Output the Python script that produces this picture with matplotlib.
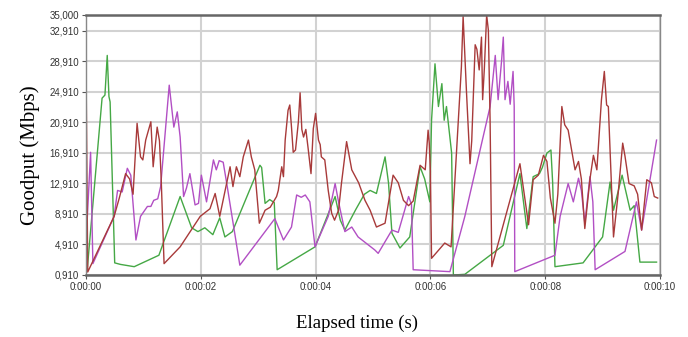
import matplotlib
matplotlib.use("Agg")
import matplotlib.pyplot as plt

# values (time in s, goodput in Mbps)
green_t = [0.02, 0.28, 0.33, 0.37, 0.40, 0.42, 0.50, 0.60, 0.84, 1.27, 1.64, 1.84, 1.95, 2.07, 2.21,
           2.33, 2.42, 2.55, 3.03, 3.06, 3.12, 3.20, 3.28, 3.33, 3.99, 4.34, 4.43, 4.51, 4.70,
           4.85, 4.95, 5.06, 5.21, 5.27, 5.33, 5.47, 5.64, 5.82, 5.90, 5.99, 6.02, 6.08, 6.14,
           6.20, 6.24, 6.28, 6.37, 6.40, 6.60, 7.27, 7.56, 7.68, 7.79, 7.90, 7.95, 8.03, 8.10,
           8.13, 8.17, 8.66, 9.00, 9.13, 9.19, 9.34, 9.48, 9.55, 9.65, 9.94]
green_v = [1.5, 24.1, 24.5, 29.7, 24.3, 23.6, 2.5, 2.3, 2.0, 3.5, 11.2, 7.1, 6.6, 7.1, 6.2,
           8.4, 5.9, 6.6, 15.3, 15.0, 10.3, 10.8, 10.4, 1.6, 4.6, 11.2, 8.1, 6.8, 9.5,
           11.5, 12.0, 11.6, 16.4, 13.0, 6.4, 4.45, 5.9, 15.1, 13.5, 10.5, 21.2, 28.6, 23.0,
           26.0, 21.2, 23.0, 16.9, 0.91, 1.0, 4.8, 14.2, 7.0, 13.8, 14.2, 15.0, 16.9, 17.3,
           13.0, 2.0, 2.5, 5.9, 13.1, 9.4, 14.0, 9.4, 10.0, 2.6, 2.6]

brown_t = [0.0, 0.03, 0.49, 0.58, 0.69, 0.76, 0.82, 0.89, 0.95, 0.99, 1.04, 1.13, 1.17, 1.24,
           1.28, 1.31, 1.36, 1.64, 1.99, 2.16, 2.25, 2.33, 2.45, 2.51, 2.56, 2.62, 2.68, 2.74,
           2.83, 2.88, 2.94, 3.02, 3.12, 3.21, 3.32, 3.35, 3.41, 3.44, 3.47, 3.52, 3.55, 3.58,
           3.61, 3.65, 3.70, 3.73, 3.76, 3.79, 3.83, 3.87, 3.92, 3.96, 4.00, 4.05, 4.08, 4.10,
           4.16, 4.22, 4.28, 4.33, 4.40, 4.45, 4.54, 4.63, 4.75, 4.86, 4.95, 5.06, 5.21, 5.35,
           5.44, 5.53, 5.62, 5.70, 5.82, 5.91, 5.96, 5.98, 6.00, 6.02, 6.25, 6.36, 6.49, 6.54,
           6.57, 6.59, 6.63, 6.69, 6.72, 6.78, 6.81, 6.85, 6.89, 6.91, 6.94, 6.98, 7.01, 7.04,
           7.07, 7.56, 7.71, 7.79, 7.88, 7.97, 8.03, 8.09, 8.17, 8.22, 8.29, 8.34, 8.40, 8.46,
           8.52, 8.58, 8.63, 8.69, 8.78, 8.84, 8.90, 8.98, 9.03, 9.07, 9.10, 9.19, 9.27, 9.35,
           9.39, 9.46, 9.55, 9.61, 9.68, 9.77, 9.85, 9.90, 9.96]
brown_v = [28.9, 1.3, 8.6, 11.0, 14.2, 13.5, 11.5, 20.8, 16.4, 16.0, 18.6, 21.0, 15.1, 20.3,
           18.5, 13.5, 2.4, 4.6, 8.6, 9.6, 11.6, 8.6, 12.9, 15.1, 12.5, 15.1, 13.8, 16.4,
           18.6, 16.4, 14.7, 7.7, 9.4, 9.8, 11.2, 12.0, 15.1, 13.8, 18.6, 22.5, 23.2, 20.3,
           17.0, 17.3, 21.0, 24.8, 20.0, 19.0, 20.0, 17.5, 14.2, 20.1, 22.1, 18.6, 18.0, 16.4,
           16.0, 12.0, 9.0, 8.1, 9.4, 12.9, 18.4, 14.7, 13.0, 10.7, 9.4, 7.2, 7.7, 14.0,
           13.0, 10.7, 10.0, 10.6, 15.3, 14.7, 19.9, 18.2, 14.5, 3.1, 5.1, 4.6, 21.7, 28.2,
           34.8, 31.5, 24.7, 15.5, 18.5, 31.1, 30.5, 27.8, 32.1, 23.9, 28.0, 35.0, 33.0, 21.2,
           2.0, 15.5, 7.5, 13.4, 14.0, 16.6, 15.8, 11.0, 7.7, 11.5, 23.0, 20.6, 19.9, 17.3,
           14.7, 15.8, 13.5, 7.0, 13.5, 16.6, 14.7, 23.9, 27.6, 23.2, 23.0, 5.9, 11.5, 18.2,
           16.5, 12.9, 12.6, 11.5, 6.8, 13.4, 13.0, 11.2, 11.0]

purple_t = [0.0, 0.08, 0.12, 0.49, 0.55, 0.63, 0.72, 0.78, 0.87, 0.95, 1.07, 1.13, 1.18, 1.25,
            1.30, 1.45, 1.53, 1.59, 1.64, 1.70, 1.75, 1.81, 1.90, 1.96, 2.01, 2.10, 2.22, 2.27,
            2.32, 2.39, 2.45, 2.68, 3.29, 3.44, 3.58, 3.67, 3.75, 3.82, 3.90, 3.99, 4.22, 4.34,
            4.40, 4.51, 4.63, 4.74, 5.03, 5.09, 5.33, 5.44, 5.62, 5.67, 5.70, 6.34, 6.60, 7.04,
            7.13, 7.18, 7.24, 7.27, 7.30, 7.35, 7.39, 7.44, 7.46, 7.47, 8.17, 8.26, 8.40, 8.49,
            8.58, 8.63, 8.69, 8.78, 8.83, 8.87, 9.39, 9.59, 9.68, 9.94]
purple_v = [5.0, 17.0, 2.4, 8.6, 12.0, 11.8, 14.9, 14.0, 5.5, 8.6, 9.9, 9.9, 10.7, 10.9,
            12.5, 25.8, 20.3, 22.3, 19.0, 11.2, 12.3, 14.2, 10.1, 10.3, 14.0, 10.5, 16.0, 14.7,
            15.9, 15.7, 13.0, 2.2, 8.3, 5.5, 7.2, 11.4, 11.1, 11.4, 10.5, 4.6, 8.6, 12.9,
            10.5, 6.6, 7.2, 5.9, 4.2, 3.75, 6.8, 6.5, 11.2, 10.2, 1.6, 1.35, 8.6, 23.0,
            29.7, 23.9, 29.0, 32.1, 23.9, 26.3, 23.3, 27.6, 23.0, 1.35, 3.5, 8.6, 12.9, 10.5,
            13.6, 12.0, 7.7, 13.8, 10.5, 1.6, 4.0, 10.5, 6.8, 18.6]

y_ticks = [0.91, 4.91, 8.91, 12.91, 16.91, 20.91, 24.91, 28.91, 32.91, 35.0]
y_labels = ['0,910', '4,910', '8,910', '12,910', '16,910', '20,910', '24,910', '28,910', '32,910', '35,000']
x_ticks = [0, 2, 4, 6, 8, 10]
x_labels = ['0:00:00', '0:00:02', '0:00:04', '0:00:06', '0:00:08', '0:00:10']

fig = plt.figure(figsize=(6.88, 3.37), dpi=100)
ax = fig.add_axes([86 / 688, 1 - 275 / 337, (660 - 86) / 688, (275 - 15) / 337])

ax.plot(green_t, green_v, color='#45a845', linewidth=1.0)
ax.plot(purple_t, purple_v, color='#b24fc4', linewidth=1.0)
ax.plot(brown_t, brown_v, color='#a83a3a', linewidth=1.0)

ax.set_xlim(0, 10)
ax.set_ylim(0.91, 35.0)
ax.set_yticks(y_ticks)
ax.set_yticklabels(y_labels)
ax.set_xticks(x_ticks)
ax.set_xticklabels(x_labels)
for lab in ax.get_xticklabels() + ax.get_yticklabels():
    lab.set_family('Liberation Sans')
    lab.set_fontsize(7)
    lab.set_color('#333333')
ax.tick_params(length=3, width=0.8, color='#555555', pad=2)

ax.grid(True, color='#d2d2d2', linewidth=1.5)
ax.set_axisbelow(True)
for side in ['top', 'bottom']:
    ax.spines[side].set_linewidth(1.8)
    ax.spines[side].set_color('#666666')
for side in ['left', 'right']:
    ax.spines[side].set_linewidth(1.0)
    ax.spines[side].set_color('#888888')

fig.text(30 / 688, 1 - 155 / 337, 'Goodput (Mbps)', rotation=90, ha='center', va='center',
         fontsize=15, family='Liberation Serif')
fig.text(357 / 688, 1 - 323 / 337, 'Elapsed time (s)', ha='center', va='center',
         fontsize=13.5, family='Liberation Serif')

fig.savefig('out.png', dpi=100)
